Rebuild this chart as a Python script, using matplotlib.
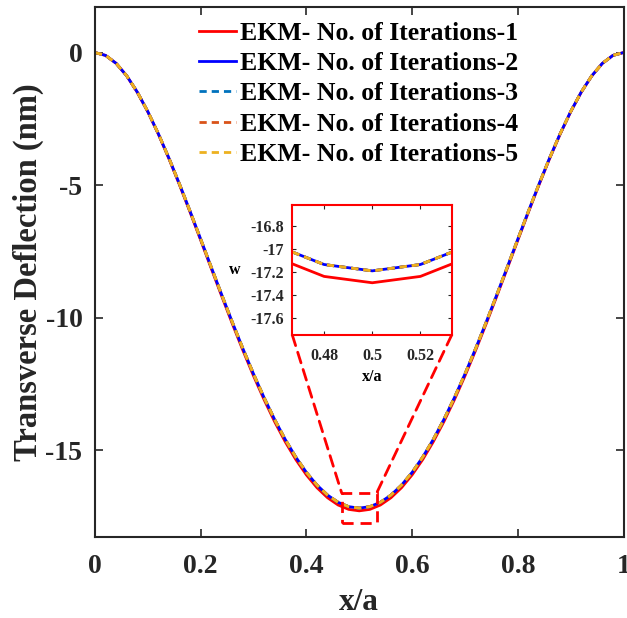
import matplotlib
matplotlib.use("Agg")
import matplotlib.pyplot as plt
from matplotlib.patches import Rectangle, ConnectionPatch

plt.rcParams['font.family'] = ['Liberation Serif', 'DejaVu Serif']
plt.rcParams['font.weight'] = 'bold'

# ---- data ----
x_a = [0.00, 0.02, 0.04, 0.06, 0.08, 0.10, 0.12, 0.14, 0.16, 0.18,
       0.20, 0.22, 0.24, 0.26, 0.28, 0.30, 0.32, 0.34, 0.36, 0.38,
       0.40, 0.42, 0.44, 0.46, 0.48, 0.50, 0.52, 0.54, 0.56, 0.58,
       0.60, 0.62, 0.64, 0.66, 0.68, 0.70, 0.72, 0.74, 0.76, 0.78,
       0.80, 0.82, 0.84, 0.86, 0.88, 0.90, 0.92, 0.94, 0.96, 0.98, 1.00]

w_iter1 = [0.000, -0.107, -0.408, -0.880, -1.499, -2.241, -3.085, -4.011, -4.998, -6.028,
           -7.083, -8.148, -9.205, -10.242, -11.245, -12.202, -13.101, -13.933, -14.688, -15.359,
           -15.937, -16.419, -16.798, -17.073, -17.238, -17.293, -17.238, -17.073, -16.798, -16.419,
           -15.937, -15.359, -14.688, -13.933, -13.101, -12.202, -11.245, -10.242, -9.205, -8.148,
           -7.083, -6.028, -4.998, -4.011, -3.085, -2.241, -1.499, -0.880, -0.408, -0.107, 0.000]

w_conv = [0.000, -0.106, -0.406, -0.875, -1.490, -2.228, -3.067, -3.987, -4.968, -5.992,
          -7.041, -8.099, -9.150, -10.181, -11.178, -12.129, -13.023, -13.850, -14.600, -15.267,
          -15.842, -16.321, -16.698, -16.971, -17.135, -17.190, -17.135, -16.971, -16.698, -16.321,
          -15.842, -15.267, -14.600, -13.850, -13.023, -12.129, -11.178, -10.181, -9.150, -8.099,
          -7.041, -5.992, -4.968, -3.987, -3.067, -2.228, -1.490, -0.875, -0.406, -0.106, 0.000]

w_iter2 = w_conv
w_iter3 = w_conv
w_iter4 = w_conv
w_iter5 = w_conv

labels = ['EKM- No. of Iterations-1', 'EKM- No. of Iterations-2',
          'EKM- No. of Iterations-3', 'EKM- No. of Iterations-4',
          'EKM- No. of Iterations-5']

xticks = [0, 0.2, 0.4, 0.6, 0.8, 1]
xticklabels = ['0', '0.2', '0.4', '0.6', '0.8', '1']
yticks = [0, -5, -10, -15]
yticklabels = ['0', '-5', '-10', '-15']

in_xticks = [0.48, 0.50, 0.52]
in_xticklabels = ['0.48', '0.5', '0.52']
in_yticks = [-16.8, -17.0, -17.2, -17.4, -17.6]
in_yticklabels = ['-16.8', '-17', '-17.2', '-17.4', '-17.6']

# ---- styles ----
series = [w_iter1, w_iter2, w_iter3, w_iter4, w_iter5]
colors = ['#ff0000', '#0000ff', '#0072bd', '#d95319', '#edb120']
styles = ['-', '-', '--', '--', '--']
lw = 2.0
dash = (2.6, 1.8)

W, H = 627, 618
fig = plt.figure(figsize=(W / 100, H / 100), dpi=100)
axc = '#262626'

ax = fig.add_axes([95 / W, 1 - 537 / H, 528.5 / W, 530 / H])
for ys, c, s, lab in zip(series, colors, styles, labels):
    kw = dict(dashes=dash) if s == '--' else {}
    ax.plot(x_a, ys, color=c, linestyle=s, lw=lw, label=lab, **kw)

ax.set_xlim(0, 1)
ax.set_ylim(-18.28, 1.72)
ax.set_xticks(xticks)
ax.set_xticklabels(xticklabels)
ax.set_yticks(yticks)
ax.set_yticklabels(yticklabels)
ax.tick_params(direction='in', top=True, right=True, length=6, width=1.2,
               colors=axc, labelsize=20)
ax.tick_params(axis='x', pad=12)
ax.tick_params(axis='y', pad=9)
for lbl in ax.get_xticklabels() + ax.get_yticklabels():
    lbl.set_fontweight('bold')
    lbl.set_color(axc)
for sp in ax.spines.values():
    sp.set_color(axc)
    sp.set_linewidth(1.5)
ax.set_xlabel('x/a', fontsize=22.5, fontweight='bold', color=axc, labelpad=6.5)
ax.set_ylabel('Transverse Deflection (nm)', fontsize=23.5, fontweight='bold',
              color=axc, labelpad=1)

leg = ax.legend(loc='upper left', bbox_to_anchor=(199 / W, 1 - 21.5 / H),
                bbox_transform=fig.transFigure, frameon=False,
                prop={'family': 'Liberation Serif', 'weight': 'bold', 'size': 18.5},
                handlelength=1.45, handletextpad=0.15, labelspacing=0.29,
                borderpad=0, borderaxespad=0)

# zoom rectangle
x0, x1 = 0.4668, 0.5330
y0, y1 = -17.745, -16.62
rect = Rectangle((x0, y0), x1 - x0, y1 - y0, fill=False, edgecolor='#ff0000',
                 lw=2.0, linestyle=(0, (4, 2.5)), zorder=5)
ax.add_patch(rect)

# inset
axin = fig.add_axes([292.3 / W, 1 - 335 / H, 159.4 / W, 130 / H])
for ys, c, s in zip(series, colors, styles):
    kw = dict(dashes=dash) if s == '--' else {}
    axin.plot(x_a, ys, color=c, linestyle=s, lw=lw, **kw)
axin.set_xlim(x0, x1)
axin.set_ylim(y0, y1)
axin.set_xticks(in_xticks)
axin.set_xticklabels(in_xticklabels)
axin.set_yticks(in_yticks)
axin.set_yticklabels(in_yticklabels)
axin.tick_params(direction='in', top=True, right=True, length=3, width=0.8,
                 colors='#262626', labelsize=11.5, pad=6)
axin.tick_params(axis='x', pad=9)
for lbl in axin.get_xticklabels() + axin.get_yticklabels():
    lbl.set_fontweight('bold')
for sp in axin.spines.values():
    sp.set_color('#ff0000')
    sp.set_linewidth(1.5)
axin.set_xlabel('x/a', fontsize=11.5, fontweight='bold', labelpad=4)
axin.set_ylabel('w', fontsize=11.5, fontweight='bold', rotation=0, labelpad=11,
                va='center')

for xa, xb in [(0, x0), (1, x1)]:
    con = ConnectionPatch(xyA=(xa, 0), coordsA=axin.transAxes,
                          xyB=(xb, y1), coordsB=ax.transData,
                          color='#ff0000', lw=2.0, linestyle=(0, (4, 2.5)))
    fig.add_artist(con)

fig.savefig('out.png', dpi=100)
